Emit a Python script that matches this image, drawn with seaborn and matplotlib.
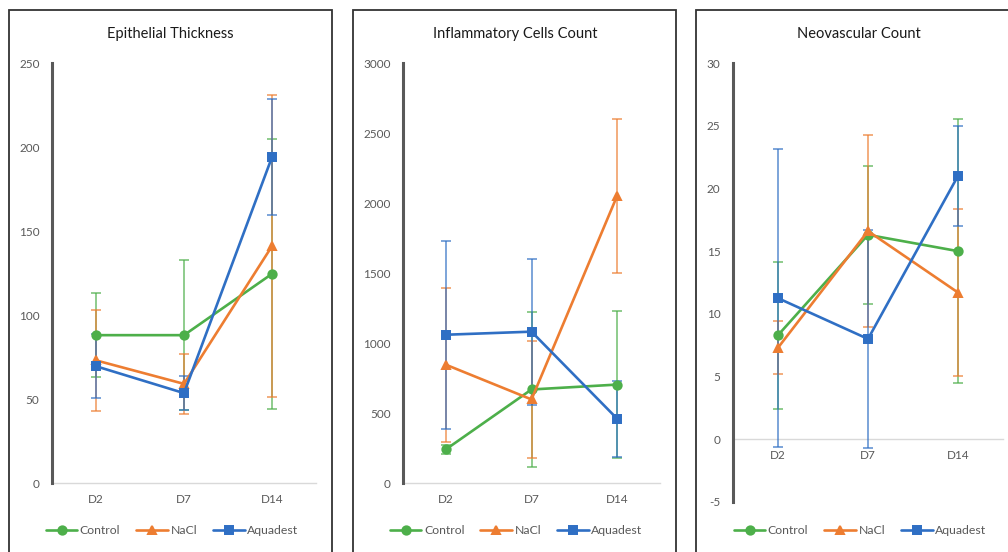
import matplotlib
matplotlib.use("Agg")
import matplotlib.pyplot as plt
from matplotlib.patches import Rectangle
import numpy as np
import pandas as pd
import seaborn as sns

# ---------------- data ----------------
days = ["D2", "D7", "D14"]
groups = ["Control", "NaCl", "Aquadest"]

titles = ["Epithelial Thickness", "Inflammatory Cells Count", "Neovascular Count"]

epi_mean = {"Control": [88, 88, 124.5], "NaCl": [73, 59, 141], "Aquadest": [69.5, 53.5, 194]}
epi_err = {"Control": [25, 44.8, 80.5], "NaCl": [30, 18, 90], "Aquadest": [19, 10, 34.5]}

inf_mean = {"Control": [240, 668, 703], "NaCl": [845, 597, 2052], "Aquadest": [1059, 1081, 459]}
inf_err = {"Control": [35, 555, 525], "NaCl": [550, 420, 550], "Aquadest": [670, 522, 272]}

neo_mean = {"Control": [8.3, 16.3, 15.0], "NaCl": [7.3, 16.6, 11.7], "Aquadest": [11.25, 8.0, 21.0]}
neo_err = {"Control": [5.85, 5.5, 10.5], "NaCl": [2.1, 7.65, 6.65], "Aquadest": [11.9, 8.7, 4.0]}

ylims = [(0, 250), (0, 3000), (-5, 30)]
ysteps = [50, 500, 5]

colors = {"Control": "#4DAF4A", "NaCl": "#ED7D31", "Aquadest": "#2F6FC4"}
markers = ["o", "^", "s"]

# ---------------- style ----------------
sns.set_theme(style="white")
plt.rcParams["font.family"] = ["Lato", "DejaVu Sans"]
plt.rcParams["axes.unicode_minus"] = False
GRAY = "#595959"

W, H = 1008, 552
fig = plt.figure(figsize=(W / 100, H / 100), dpi=100)

def fx(px):
    return px / W

def fy(py):
    return 1 - py / H

# axes rectangles in pixel coordinates (left, top, right, bottom)
axes_px = [(52, 63, 316, 483), (403, 63, 660, 483), (733, 63, 1003, 502)]
panel_px = [(9, 10, 332), (353, 10, 676), (696, 10, 1030)]
legend_cx = [172, 516, 860]
title_cx = [170, 515, 859]

datasets = [(epi_mean, epi_err), (inf_mean, inf_err), (neo_mean, neo_err)]

for i in range(3):
    l, t, r, b = axes_px[i]
    ax = fig.add_axes([fx(l), fy(b), fx(r - l), fy(t) - fy(b)])
    means, errs = datasets[i]

    rows = []
    for g in groups:
        for d, v in zip(days, means[g]):
            rows.append({"day": d, "group": g, "value": v})
    df = pd.DataFrame(rows)

    sns.pointplot(data=df, x="day", y="value", hue="group", order=days,
                  hue_order=groups, palette=colors, markers=markers,
                  linestyles="-", errorbar=None, markersize=6,
                  linewidth=1.9, ax=ax, zorder=3)

    for g in groups:
        ax.errorbar(np.arange(len(days)), means[g], yerr=errs[g], fmt="none",
                    ecolor=colors[g], elinewidth=1.1, capsize=3.5,
                    capthick=1.1, alpha=0.8, zorder=2)

    lo, hi = ylims[i]
    ax.set_ylim(lo, hi)
    ax.set_xlim(-0.5, 2.5)
    ax.set_yticks(np.arange(lo, hi + ysteps[i] / 2, ysteps[i]))
    ax.set_xlabel("")
    ax.set_ylabel("")

    for s in ["top", "right"]:
        ax.spines[s].set_visible(False)
    ax.spines["left"].set_color(GRAY)
    ax.spines["left"].set_linewidth(2.2)
    ax.spines["bottom"].set_position(("data", 0))
    ax.spines["bottom"].set_color("#D9D9D9")
    ax.spines["bottom"].set_linewidth(1.0)
    ax.spines["bottom"].set_zorder(0)
    ax.tick_params(axis="both", length=0, labelsize=8.5, labelcolor=GRAY)
    ax.tick_params(axis="y", pad=9)
    ax.tick_params(axis="x", pad=8)
    ax.patch.set_alpha(0)

    handles, labels = ax.get_legend_handles_labels()
    if ax.get_legend() is not None:
        ax.get_legend().remove()
    fig.legend(handles, labels, loc="center", bbox_to_anchor=(fx(legend_cx[i]), fy(531)),
               ncol=3, frameon=False, fontsize=8.8, labelcolor=GRAY,
               handlelength=2.6, handletextpad=0.2, columnspacing=1.3,
               borderaxespad=0)

    pl, pt, pr = panel_px[i]
    fig.text(fx(title_cx[i]), fy(34), titles[i],
             ha="center", va="center", fontsize=10.5, color="#1a1a1a")
    fig.patches.append(Rectangle((fx(pl), -0.1), fx(pr - pl), fy(pt) + 0.1,
                                 transform=fig.transFigure, fill=False,
                                 edgecolor="#333333", linewidth=1.3))

fig.savefig("out.png", dpi=100, facecolor="white")
